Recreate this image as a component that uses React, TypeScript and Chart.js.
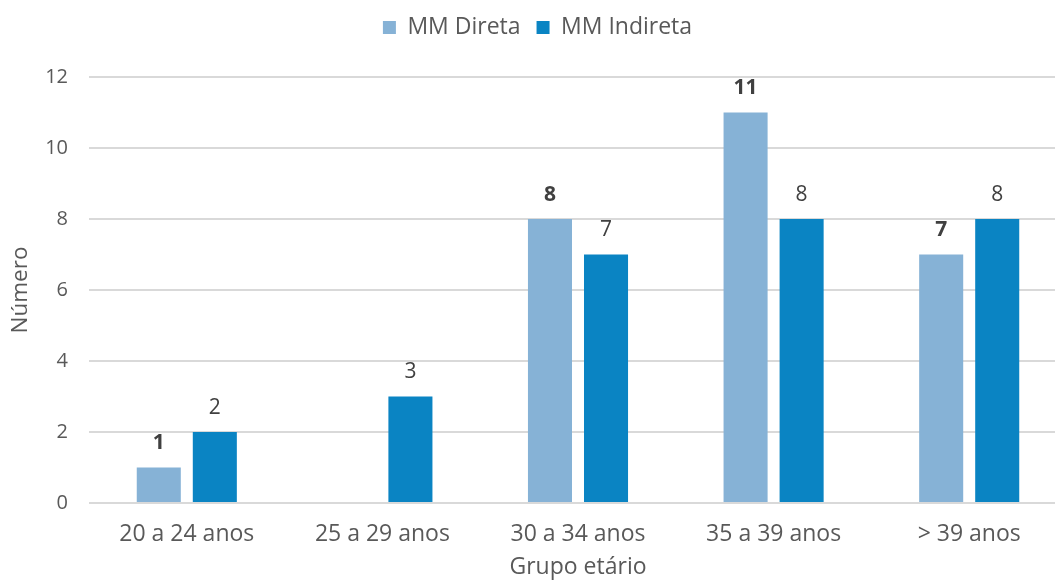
import React, { useEffect, useRef } from "react";
import { Chart, registerables } from "chart.js";

Chart.register(...registerables);

const categories = ["20 a 24 anos", "25 a 29 anos", "30 a 34 anos", "35 a 39 anos", "> 39 anos"];
const seriesNames = ["MM Direta", "MM Indireta"];
const mmDireta: (number | null)[] = [1, null, 8, 11, 7];
const mmIndireta: (number | null)[] = [2, 3, 7, 8, 8];
const yMin = 0;
const yMax = 12;
const yStep = 2;
const xTitle = "Grupo etário";
const yTitle = "Número";

const FONT = "'Open Sans', sans-serif";
const TEXT = "#595959";

const valueLabels = {
  id: "valueLabels",
  afterDatasetsDraw(chart: any) {
    const ctx = chart.ctx;
    ctx.save();
    ctx.textAlign = "center";
    ctx.textBaseline = "middle";
    chart.data.datasets.forEach((ds: any, di: number) => {
      const meta = chart.getDatasetMeta(di);
      ctx.font = (di === 0 ? "bold 21px " : "21px ") + FONT;
      ctx.fillStyle = "#404040";
      meta.data.forEach((el: any, i: number) => {
        const v = ds.data[i];
        if (v === null || v === undefined) return;
        ctx.fillText(String(v), el.x, el.y - 24);
      });
    });
    ctx.restore();
  },
};

const legendShift = {
  id: "legendShift",
  afterLayout(chart: any) {
    if (chart.legend) {
      chart.legend.left += 4;
      chart.legend.right += 4;
    }
  },
};

export default function App() {
  const ref = useRef<HTMLCanvasElement | null>(null);
  useEffect(() => {
    if (!ref.current) return;
    const chart = new Chart(ref.current, {
      type: "bar",
      data: {
        labels: categories,
        datasets: [
          {
            label: seriesNames[0],
            data: mmDireta,
            backgroundColor: "#86b2d6",
            categoryPercentage: 0.573,
            barPercentage: 0.786,
          },
          {
            label: seriesNames[1],
            data: mmIndireta,
            backgroundColor: "#0a84c3",
            categoryPercentage: 0.573,
            barPercentage: 0.786,
          },
        ],
      },
      options: {
        animation: false,
        responsive: true,
        maintainAspectRatio: false,
        layout: { padding: 0 },
        plugins: {
          legend: {
            position: "top",
            weight: 3000,
            labels: {
              color: TEXT,
              font: { family: FONT, size: 23 },
              boxWidth: 13,
              boxHeight: 13,
              padding: 16,
            },
          } as any,
          title: {
            display: true,
            text: "",
            position: "top",
            font: { size: 1 },
            padding: { top: 0, bottom: 26.8 },
          },
          tooltip: { enabled: false },
        },
        scales: {
          x: {
            grid: { display: false, drawTicks: false },
            border: { display: false },
            ticks: { color: TEXT, font: { family: FONT, size: 23 }, padding: 18 },
            title: {
              display: true,
              text: xTitle,
              color: TEXT,
              font: { family: FONT, size: 23 },
              padding: { top: 0, bottom: 0 },
            },
            afterFit(scale: any) {
              scale.height = 78;
            },
          },
          y: {
            min: yMin,
            max: yMax,
            grid: { color: "#d9d9d9", lineWidth: 2, drawTicks: false },
            border: { display: false },
            ticks: {
              stepSize: yStep,
              color: TEXT,
              font: { family: FONT, size: 20 },
              padding: 21,
            },
            title: {
              display: true,
              text: yTitle,
              color: TEXT,
              font: { family: FONT, size: 22.5 },
              padding: { top: 7.5, bottom: 0 },
            },
            afterFit(scale: any) {
              scale.width = 89;
            },
          },
        },
      },
      plugins: [valueLabels, legendShift],
    });
    return () => chart.destroy();
  }, []);
  return (
    <div style={{ position: "fixed", left: 0, top: 0, width: 1067, height: 581, background: "#fff" }}>
      <canvas ref={ref} />
    </div>
  );
}
